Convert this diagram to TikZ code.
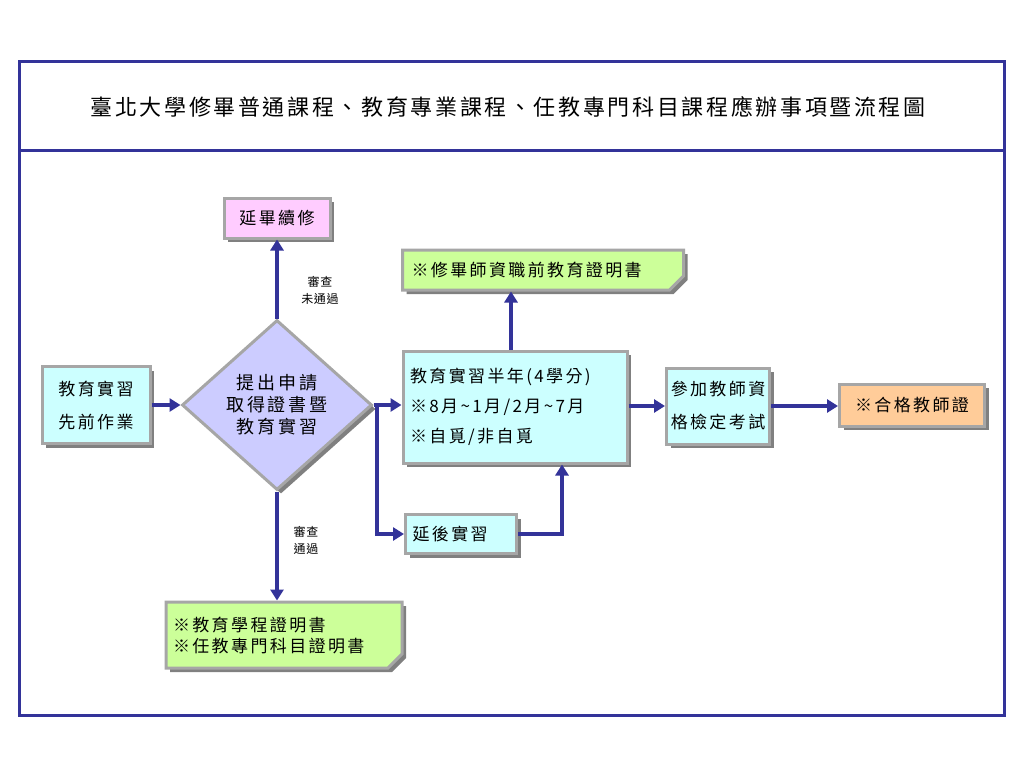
\documentclass[tikz,border=0pt]{standalone}
\usepackage{fontspec}
\usetikzlibrary{arrows.meta,shapes.geometric,shapes.misc,shadows,positioning}
\newfontfamily\cjk[LetterSpace=14]{Noto Sans CJK TC}
\newfontfamily\cjkdia[LetterSpace=16]{Noto Sans CJK TC}
\newfontfamily\cjktitle[LetterSpace=12]{Noto Sans CJK TC}
\newfontfamily\cjksmall[LetterSpace=6]{Noto Sans CJK TC}
\newcommand{\tld}{{\char"007E}}
\definecolor{navy}{RGB}{51,51,153}
\definecolor{bordergray}{RGB}{166,166,166}
\definecolor{shadowgray}{RGB}{128,128,128}
\definecolor{cyanfill}{RGB}{204,255,255}
\definecolor{greenfill}{RGB}{204,255,153}
\definecolor{pinkfill}{RGB}{255,204,255}
\definecolor{peachfill}{RGB}{255,204,153}
\definecolor{lavfill}{RGB}{204,204,255}
\tikzset{
  boxbase/.style={draw=bordergray, line width=3pt, inner sep=0pt, font=\cjk\fontsize{17}{21}\selectfont,
    drop shadow={shadow xshift=4pt, shadow yshift=-4pt, fill=shadowgray, opacity=1}},
  cyanbox/.style={boxbase, fill=cyanfill},
  greenbox/.style={boxbase, fill=greenfill, chamfered rectangle, chamfered rectangle corners=south east,
    chamfered rectangle xsep=7pt, chamfered rectangle ysep=7pt},
  pinkbox/.style={boxbase, fill=pinkfill},
  peachbox/.style={boxbase, fill=peachfill},
  flow/.style={draw=navy, line width=4pt, -{Triangle[length=11pt,width=13pt]}},
  lbl/.style={font=\cjksmall\fontsize{12}{17}\selectfont, align=center, inner sep=0pt},
}
\begin{document}
\begin{tikzpicture}[x=1pt,y=-1pt]
\useasboundingbox (0,0) rectangle (1024,768);
\fill[white] (0,0) rectangle (1024,768);
% frame
\draw[navy, line width=3pt] (19,61) rectangle (1004,715);
\draw[navy, line width=3pt] (19,150) -- (1004,150);
\node[font=\cjktitle\fontsize{22}{26}\selectfont] (title) at (508,107) {臺北大學修畢普通課程、教育專業課程、任教專門科目課程應辦事項暨流程圖};

% nodes
\node[pinkbox, minimum width=106pt, minimum height=40pt] (yan) at (277,218) {延畢續修};
\node[greenbox, minimum width=281pt, minimum height=40pt, align=left, text width=263pt] (cert1) at (543,270) {※修畢師資職前教育證明書};
\node[cyanbox, minimum width=108pt, minimum height=77pt, align=center] (pre) at (96,405) {教育實習\\[12pt]先前作業};
\node[diamond, aspect=1.12, draw=bordergray, line width=3pt, fill=lavfill, inner sep=0pt,
  minimum width=190pt, minimum height=170pt, align=center, font=\cjkdia\fontsize{18}{22}\selectfont,
  drop shadow={shadow xshift=4pt, shadow yshift=-4pt, fill=shadowgray, opacity=1}] (dec) at (277,405) {提出申請\\取得證書暨\\教育實習};
\node[cyanbox, minimum width=224pt, minimum height=112pt, align=left, text width=210pt] (main) at (515,407) {教育實習半年(4學分)\\[9pt]※8月\tld1月/2月\tld7月\\[9pt]※自覓/非自覓};
\node[cyanbox, minimum width=103pt, minimum height=76pt, align=center] (exam) at (718,406) {參加教師資\\[12pt]格檢定考試};
\node[peachbox, minimum width=145pt, minimum height=42pt] (final) at (912,405) {※合格教師證};
\node[cyanbox, minimum width=111pt, minimum height=39pt, align=left, text width=97pt] (delay) at (461,534) {延後實習};
\node[greenbox, minimum width=236pt, minimum height=66pt, align=left, text width=222pt] (cert2) at (284,635) {※教育學程證明書\\※任教專門科目證明書};

% labels
\node[lbl] (l1) at (320,290) {審查\\未通過};
\node[lbl] (l2) at (306,540) {審查\\通過};

% helper coordinates
\coordinate (br) at (377,405);
\coordinate (upx) at (562,0);
\coordinate (topx) at (511,0);

% connectors
\draw[flow] (pre.east) -- (dec.west);
\draw[flow] (dec.north) -- (yan.south);
\draw[flow] (dec.south) -- (cert2.north -| dec.south);
\draw[flow] (dec.east) -- (main.west |- dec.east);
\draw[flow] (br) |- (delay.west);
\draw[flow] (delay.east) -| (main.south -| upx);
\draw[flow] (main.north -| topx) -- (cert1.south -| topx);
\draw[flow] (main.east |- exam.west) -- (exam.west);
\draw[flow] (exam.east) -- (final.west |- exam.east);
\end{tikzpicture}
\end{document}
